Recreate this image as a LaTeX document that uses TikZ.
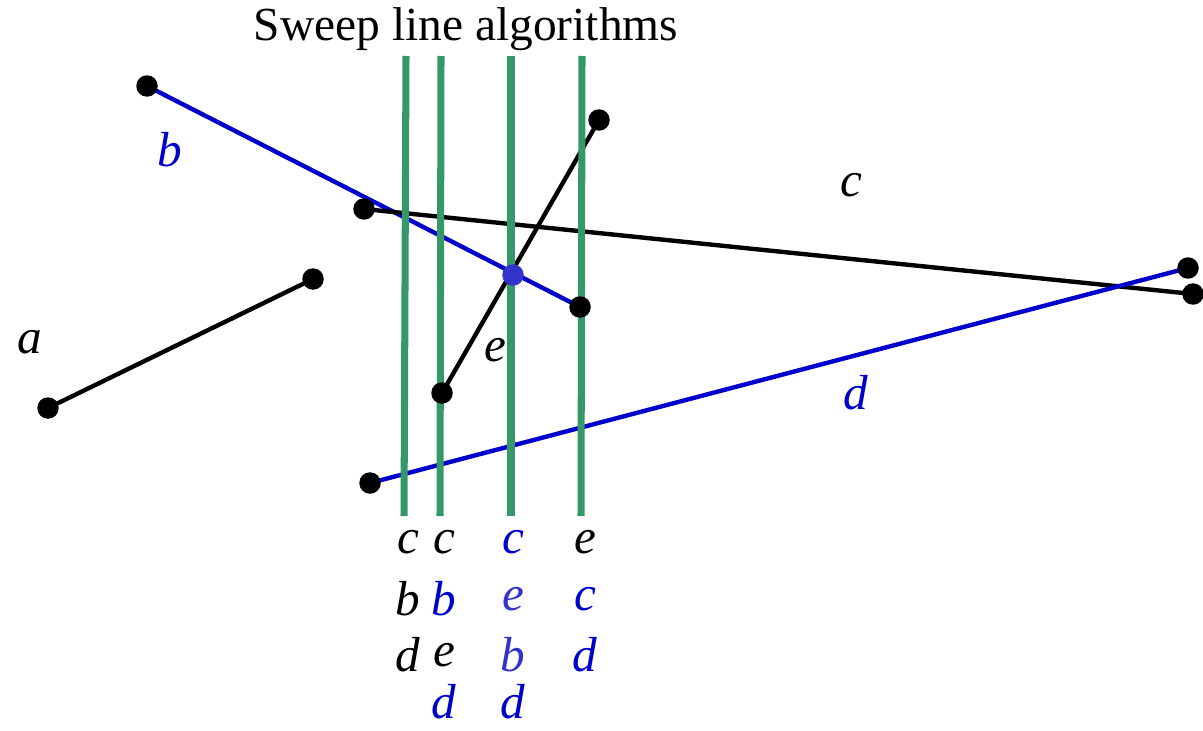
\documentclass[tikz,border=0pt]{standalone}
\usepackage{fontspec}
\setmainfont{Liberation Serif}
\usetikzlibrary{positioning}
\pgfdeclarelayer{edgelayer}
\pgfdeclarelayer{nodelayer}
\pgfsetlayers{edgelayer,main,nodelayer}
\definecolor{segblue}{RGB}{0,0,204}
\definecolor{paleblue}{RGB}{51,51,204}
\definecolor{sweepgreen}{RGB}{52,153,104}

\begin{document}
\begin{tikzpicture}[x=0.02cm,y=-0.02cm,
  pt/.style={circle,fill=black,draw=none,inner sep=0mm,minimum size=4.3mm},
  seg/.style={line width=2.5pt},
  sweep/.style={line width=4pt,draw=sweepgreen},
  lab/.style={inner sep=0mm,font=\fontsize{28}{30}\selectfont\itshape}]
\useasboundingbox (0,0) rectangle (1203,730);
\node (title) [inner sep=0mm,font=\fontsize{27}{30}\selectfont] at (466,29) {Sweep line algorithms};
% end points
\begin{pgfonlayer}{nodelayer}
\node (a1) [pt] at (48,408) {};
\node (a2) [pt] at (313,279) {};
\node (b1) [pt] at (147,86) {};
\node (b2) [pt] at (580,307) {};
\node (c1) [pt] at (364,209) {};
\node (c2) [pt] at (1193,294) {};
\node (d1) [pt] at (370,483) {};
\node (d2) [pt] at (1188,268) {};
\node (e1) [pt] at (442,393) {};
\node (e2) [pt] at (599,120) {};
\node (be) [pt,fill=paleblue] at (513,275) {};
\end{pgfonlayer}
\begin{pgfonlayer}{edgelayer}
\draw [seg] (a1.center)--(a2.center);
\draw [seg,segblue] (b1.center)--(b2.center);
\draw [seg] (c1.center)--(c2.center);
\draw [seg,segblue] (d1.center)--(d2.center);
\draw [seg] (e1.center)--(e2.center);
\end{pgfonlayer}
\node (la) [lab] at (30,342) {a};
\node (lb) [lab,segblue] at (170,150) {b};
\node (lc) [lab] at (851,185) {c};
\node (ld) [lab,segblue] at (856,393) {d};
\node (le) [lab] at (495,350) {e};
% sweep lines
\coordinate (s1t) at (406,56); \coordinate (s1b) at (404,516);
\coordinate (s2t) at (441,56); \coordinate (s2b) at (440,516);
\coordinate (s3t) at (511,56); \coordinate (s3b) at (511,516);
\coordinate (s4t) at (582,56); \coordinate (s4b) at (581,516);
\draw [sweep] (s1t)--(s1b);\draw [sweep] (s2t)--(s2b);
\draw [sweep] (s3t)--(s3b);\draw [sweep] (s4t)--(s4b);
% orders along the sweep lines
\node (o11) [lab] at (408,542) {c};
\node (o12) [lab] at (408,599) {b};
\node (o13) [lab] at (408,655) {d};
\node (o21) [lab] at (444,542) {c};
\node (o22) [lab,segblue] at (444,599) {b};
\node (o23) [lab] at (444,655) {e};
\node (o24) [lab,segblue] at (444,702) {d};
\node (o31) [lab,segblue] at (513,542) {c};
\node (o32) [lab,paleblue] at (513,599) {e};
\node (o33) [lab,paleblue] at (513,655) {b};
\node (o34) [lab,segblue] at (513,702) {d};
\node (o41) [lab] at (585,542) {e};
\node (o42) [lab,segblue] at (585,599) {c};
\node (o43) [lab,segblue] at (585,655) {d};
\end{tikzpicture}
\end{document}
